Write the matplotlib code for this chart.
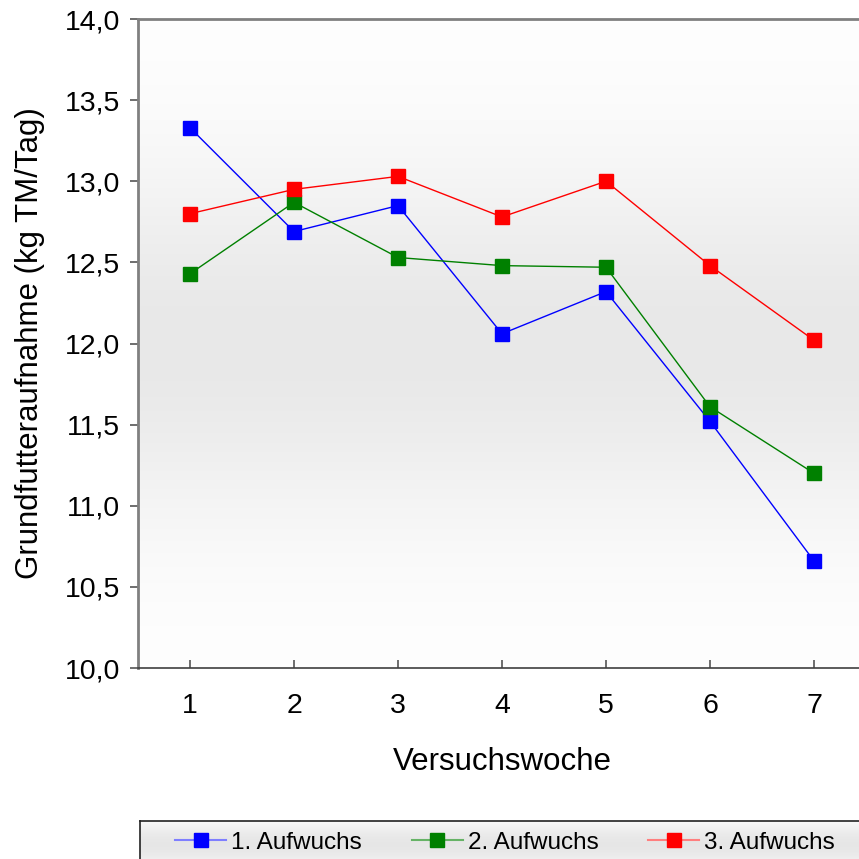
import matplotlib.pyplot as plt
from matplotlib.lines import Line2D
import numpy as np

weeks = [1, 2, 3, 4, 5, 6, 7]
aufwuchs_1 = [13.33, 12.69, 12.85, 12.06, 12.32, 11.52, 10.66]
aufwuchs_2 = [12.43, 12.87, 12.53, 12.48, 12.47, 11.61, 11.20]
aufwuchs_3 = [12.80, 12.95, 13.03, 12.78, 13.00, 12.48, 12.02]
series_names = ["1. Aufwuchs", "2. Aufwuchs", "3. Aufwuchs"]
series_colors = ["#0000ff", "#008000", "#ff0000"]
legend_line_colors = ["#7f7fff", "#66b366", "#ff7f7f"]
y_ticks = [10.0, 10.5, 11.0, 11.5, 12.0, 12.5, 13.0, 13.5, 14.0]

plt.rcParams['font.family'] = ['Liberation Sans', 'DejaVu Sans']

W = H = 859
fig = plt.figure(figsize=(W / 100, H / 100), dpi=100)
# axes runs a bit past the right edge of the figure, like the original
ax = fig.add_axes([138 / W, 1 - 668 / H, 728 / W, 649 / H])

# vertical gradient: white at top, grey in the middle, white at bottom
t = np.linspace(0, 1, 256)
shade = 1 - 0.09 * np.exp(-((t - 0.5) / 0.28) ** 2)
grad = np.dstack([shade, shade, shade])
ax.imshow(grad.reshape(256, 1, 3), extent=[0, 1, 0, 1], transform=ax.transAxes,
          aspect='auto', zorder=0, interpolation='bicubic')

for vals, name, col in zip([aufwuchs_1, aufwuchs_2, aufwuchs_3], series_names, series_colors):
    ax.plot(weeks, vals, '-', color=col, lw=1.0, marker='s', ms=9.5,
            mfc=col, mec=col, label=name, zorder=3)

ax.set_xlim(0.5, 7.5)
ax.set_ylim(10, 14)
ax.set_xticks(weeks)
ax.set_yticks(y_ticks)
ax.set_yticklabels([f"{v:.1f}".replace('.', ',') for v in y_ticks])
ax.tick_params(labelsize=20.5, color='#555555', length=6, width=1.2)
ax.tick_params(axis='x', direction='in', pad=18)
ax.tick_params(axis='y', direction='out', pad=7)

for s in ['left', 'top']:
    ax.spines[s].set_color('#808080')
    ax.spines[s].set_linewidth(2)
ax.spines['bottom'].set_color('#404040')
ax.spines['bottom'].set_linewidth(1.2)
ax.spines['right'].set_visible(False)

ax.set_xlabel("Versuchswoche", fontsize=22.5, labelpad=20)
ax.set_ylabel("Grundfutteraufnahme (kg TM/Tag)", fontsize=22.5, labelpad=14)

# legend box, also running off the right edge
lax = fig.add_axes([140 / W, -0.01, 1, (859 - 821) / H + 0.01])
lt = np.linspace(0, 1, 64)
lshade = 0.975 - 0.07 * np.sin(np.pi * lt)
lax.imshow(np.dstack([lshade, lshade, lshade]).reshape(64, 1, 3), extent=[0, 1, 0, 1],
           transform=lax.transAxes, aspect='auto', interpolation='bicubic')
lax.set_xticks([])
lax.set_yticks([])
for s in lax.spines.values():
    s.set_color('#222222')
    s.set_linewidth(1.2)

handles = [Line2D([], [], color=lc, lw=1.5, marker='s', ms=10, mfc=c, mec=c)
           for lc, c in zip(legend_line_colors, series_colors)]
leg = lax.legend(handles, series_names, loc='center left', bbox_to_anchor=(0.041, 0.53),
                 ncol=3, fontsize=17.5, frameon=False, handlelength=2.1,
                 handletextpad=0.2, columnspacing=2.05, borderpad=0, borderaxespad=0)

fig.savefig("out.png", dpi=100)
